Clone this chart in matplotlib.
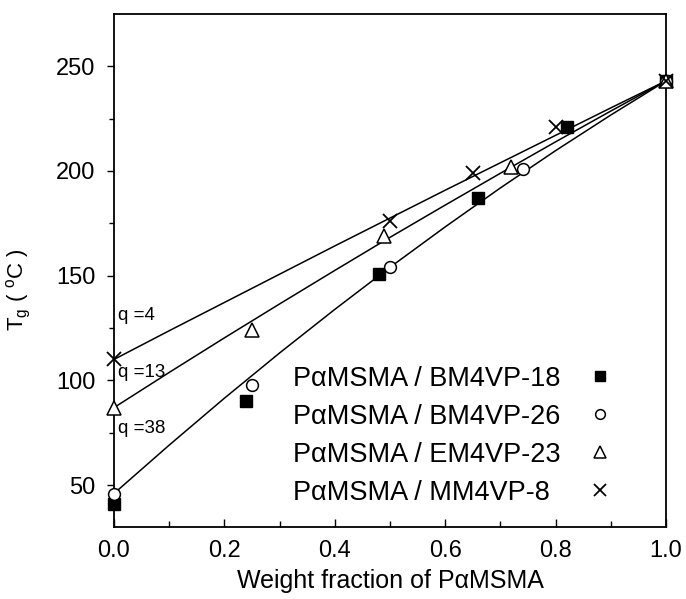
import matplotlib
matplotlib.use("Agg")
import matplotlib.pyplot as plt
from matplotlib.lines import Line2D

plt.rcParams['font.family'] = ['Liberation Sans', 'DejaVu Sans']
plt.rcParams['mathtext.fontset'] = 'custom'
plt.rcParams['mathtext.rm'] = 'Liberation Sans'
plt.rcParams['mathtext.it'] = 'Liberation Sans'

# ---- data ----
bm18_x = [0.0, 0.24, 0.48, 0.66, 0.82, 1.0]
bm18_y = [41, 90, 151, 187, 221, 243]
bm26_x = [0.0, 0.25, 0.50, 0.74, 1.0]
bm26_y = [46, 98, 154, 201, 243]
em23_x = [0.0, 0.25, 0.49, 0.72, 1.0]
em23_y = [87, 124, 169, 202, 243]
mm8_x = [0.0, 0.50, 0.65, 0.80, 1.0]
mm8_y = [110, 176, 199, 221, 243]

curve_x = [0.0, 0.1, 0.2, 0.3, 0.4, 0.5, 0.6, 0.7, 0.8, 0.9, 1.0]
curve_q4 = [110, 123.7, 137.2, 150.7, 164.2, 177.5, 190.8, 203.9, 217.0, 230.1, 243]
curve_q13 = [87, 103.8, 120.3, 136.5, 152.5, 168.3, 183.7, 198.9, 213.9, 228.6, 243]
curve_q38 = [46, 69.1, 91.5, 113.1, 133.9, 154.0, 173.3, 191.9, 209.7, 226.7, 243]

labels = ['P\u03b1MSMA / BM4VP-18', 'P\u03b1MSMA / BM4VP-26',
          'P\u03b1MSMA / EM4VP-23', 'P\u03b1MSMA / MM4VP-8']
q_labels = ['q =4', 'q =13', 'q =38']
q_label_y = [131, 104, 77]

fig = plt.figure(figsize=(6.86, 5.99), dpi=100)
ax = fig.add_axes([0.166, 0.12, 0.805, 0.857])

for cy in (curve_q4, curve_q13, curve_q38):
    ax.plot(curve_x, cy, color='black', lw=1.1, zorder=2)

ms = 8.5
sq = dict(ls='none', marker='s', mfc='black', mec='black')
ci = dict(ls='none', marker='o', mfc='white', mec='black', mew=1.1)
tr = dict(ls='none', marker='^', mfc='white', mec='black', mew=1.1)
xx = dict(ls='none', marker='x', mec='black', mew=1.3)
ax.plot(bm18_x, bm18_y, ms=ms, zorder=3, clip_on=False, **sq)
ax.plot(bm26_x, bm26_y, ms=ms, zorder=3, clip_on=False, **ci)
ax.plot(em23_x, em23_y, ms=ms + 1.5, zorder=3, clip_on=False, **tr)
ax.plot(mm8_x, mm8_y, ms=ms + 1, zorder=3, clip_on=False, **xx)

ax.set_xlim(0, 1.0)
ax.set_ylim(30, 275)
ax.set_xticks([0.0, 0.2, 0.4, 0.6, 0.8, 1.0])
ax.set_xticks([0.1, 0.3, 0.5, 0.7, 0.9], minor=True)
ax.set_yticks([50, 100, 150, 200, 250])
ax.set_yticks([75, 125, 175, 225], minor=True)
ax.tick_params(axis='x', which='both', direction='in', labelsize=17, pad=9)
ax.tick_params(axis='x', which='major', length=6, width=1)
ax.tick_params(axis='x', which='minor', length=4, width=1)
ax.tick_params(axis='y', which='both', direction='out', labelsize=17, pad=8.5)
ax.tick_params(axis='y', which='major', length=5, width=1)
ax.tick_params(axis='y', which='minor', length=3.5, width=1)
for s in ax.spines.values():
    s.set_linewidth(1.3)
ax.set_xticklabels(['0.0', '0.2', '0.4', '0.6', '0.8', '1.0'])

ax.set_xlabel('Weight fraction of P\u03b1MSMA', fontsize=18, labelpad=5)
ax.set_ylabel(r'T$_\mathrm{g}$ ( $^\mathrm{o}$C )', fontsize=16)
ax.yaxis.set_label_coords(-0.146, 0.462)

for lab, yv in zip(q_labels, q_label_y):
    ax.text(0.008, yv, lab, fontsize=13.5, va='center', ha='left')

lms = 7
handles = [Line2D([], [], ms=lms, **sq), Line2D([], [], ms=lms, **ci),
           Line2D([], [], ms=lms + 1, **tr), Line2D([], [], ms=lms + 1, **xx)]
leg = ax.legend(handles, labels, loc='upper left', bbox_to_anchor=(0.324, 0.314),
                frameon=False, markerfirst=False, fontsize=19.5, handlelength=1.0,
                handletextpad=1.0, labelspacing=0.44, borderpad=0, borderaxespad=0)
# left-align the labels and put the keys in one column on the right
for col in leg._legend_handle_box.get_children():
    for row in col.get_children():
        row.mode = 'expand'
        row.width = 321

fig.savefig('out.png', dpi=100)
